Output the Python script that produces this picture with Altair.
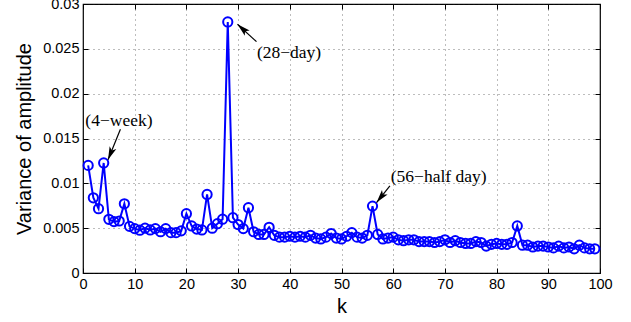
import math
import altair as alt
import pandas as pd

# ---------------- data ----------------
k_values = list(range(1, 100))
variance = [
    0.0120, 0.00839, 0.00717, 0.01227, 0.00599, 0.00573, 0.0058, 0.00772, 0.0052, 0.00495,
    0.00477, 0.0050, 0.0048, 0.00495, 0.0046, 0.00495, 0.0045, 0.0045, 0.0047, 0.00661,
    0.00525, 0.0049, 0.0048, 0.00876, 0.0050, 0.0055, 0.0060, 0.0280, 0.00617, 0.0054,
    0.00495, 0.00728, 0.0046, 0.0043, 0.0043, 0.0051, 0.0042, 0.0040, 0.0040, 0.0041,
    0.0040, 0.0041, 0.0040, 0.0042, 0.0039, 0.0038, 0.0040, 0.0044, 0.0039, 0.0038,
    0.0041, 0.0045, 0.0040, 0.0039, 0.0042, 0.00746, 0.0043, 0.0038, 0.0039, 0.0040,
    0.0037, 0.0036, 0.0037, 0.0037, 0.0035, 0.0035, 0.0035, 0.0034, 0.0035, 0.0037,
    0.0034, 0.0036, 0.0034, 0.0033, 0.0033, 0.0035, 0.0034, 0.0030, 0.0032, 0.0033,
    0.0032, 0.0032, 0.0034, 0.00525, 0.0031, 0.0031, 0.0029, 0.0030, 0.0030, 0.0029,
    0.0028, 0.0030, 0.0028, 0.0029, 0.0027, 0.0031, 0.0028, 0.0027, 0.0027,
]

x_ticks = [0, 10, 20, 30, 40, 50, 60, 70, 80, 90, 100]
y_ticks = [0, 0.005, 0.01, 0.015, 0.02, 0.025, 0.03]

ann_labels = ["(4\u2212week)", "(28\u2212day)", "(56\u2212half day)"]
ann_label_k = [6.95, 39.85, 68.8]
ann_label_v = [0.0170, 0.02454, 0.01069]
ann_tail_k = [7.24, 33.56, 59.36]
ann_tail_v = [0.01604, 0.0258, 0.00972]
ann_tip_k = [4.84, 29.88, 56.78]
ann_tip_v = [0.01262, 0.02774, 0.00786]

# ---------------- layout ----------------
W, H = 517, 269
X_MAX, Y_MAX = 100, 0.03
SANS = "Liberation Sans"
SERIF = "Liberation Serif"

df = pd.DataFrame({"k": k_values, "v": variance})

angles = []
for tk, tv, pk, pv in zip(ann_tail_k, ann_tail_v, ann_tip_k, ann_tip_v):
    dx = (pk - tk) * W / X_MAX
    dy = -(pv - tv) * H / Y_MAX
    angles.append(math.degrees(math.atan2(dx, -dy)) % 360)

ann = pd.DataFrame({
    "label": ann_labels,
    "lk": ann_label_k, "lv": ann_label_v,
    "tk": ann_tail_k, "tv": ann_tail_v,
    "pk": ann_tip_k, "pv": ann_tip_v,
    "ang": angles,
})

xs = alt.Scale(domain=[0, X_MAX], nice=False, zero=False)
ys = alt.Scale(domain=[0, Y_MAX], nice=False, zero=False)

main_x = alt.Axis(
    values=x_ticks, grid=True, gridDash=[1, 4], gridColor="#222222", gridOpacity=0.6,
    ticks=False, domain=False, labelFont=SANS, labelFontSize=14.5, labelColor="black",
    labelPadding=4, labelFlush=False, title="k", titleFont=SANS, titleFontSize=20,
    titleFontWeight="normal", titleColor="black", titlePadding=6,
)
main_y = alt.Axis(
    values=y_ticks, format="~g", grid=True, gridDash=[1, 4], gridColor="#222222",
    gridOpacity=0.6, ticks=False, domain=False, labelFont=SANS, labelFontSize=14.5,
    labelColor="black", labelPadding=4, labelFlush=False, title="Variance of amplitude",
    titleFont=SANS, titleFontSize=20, titleFontWeight="normal", titleColor="black",
    titlePadding=8,
)


def tick_axis(orient, offset, values):
    return alt.Axis(orient=orient, offset=offset, values=values, ticks=True, tickSize=5,
                    tickColor="black", tickWidth=1, labels=False, domain=False,
                    grid=False, title=None)


line = alt.Chart(df).mark_line(color="#0000ff", strokeWidth=2).encode(
    x=alt.X("k:Q", scale=xs, axis=main_x),
    y=alt.Y("v:Q", scale=ys, axis=main_y),
)

points = alt.Chart(df).mark_point(
    shape="circle", size=85, color="#0000ff", strokeWidth=2, filled=False, opacity=1
).encode(
    x=alt.X("k:Q", scale=xs, axis=tick_axis("top", -H, x_ticks)),
    y=alt.Y("v:Q", scale=ys, axis=tick_axis("right", -W, y_ticks)),
)

texts = alt.Chart(ann).mark_text(
    font=SERIF, fontSize=17.5, color="black", align="center", baseline="middle"
).encode(
    x=alt.X("lk:Q", scale=xs, axis=tick_axis("bottom", -H, x_ticks)),
    y=alt.Y("lv:Q", scale=ys, axis=tick_axis("left", -W, y_ticks)),
    text="label:N",
)

shafts = alt.Chart(ann).mark_rule(color="black", strokeWidth=1.2).encode(
    x=alt.X("tk:Q", scale=xs, axis=None),
    y=alt.Y("tv:Q", scale=ys, axis=None),
    x2="pk:Q",
    y2="pv:Q",
)

heads = alt.Chart(ann).mark_point(
    shape="M0,0 L-0.6,2.2 L0,1.7 L0.6,2.2 Z", size=144, filled=True,
    color="black", opacity=1, strokeWidth=0,
).encode(
    x=alt.X("pk:Q", scale=xs, axis=None),
    y=alt.Y("pv:Q", scale=ys, axis=None),
    angle=alt.Angle("ang:Q", scale=None),
)

chart = alt.layer(line, points, texts, shafts, heads).resolve_scale(
    x="shared", y="shared"
).resolve_axis(
    x="independent", y="independent"
).properties(
    width=W, height=H,
    autosize=alt.AutoSizeParams(type="none"),
    padding={"left": 83, "top": 4, "right": 31, "bottom": 49},
    background="white",
).configure_view(
    stroke="black", strokeWidth=1.2
)

chart.save("out.html", embed_options={"renderer": "svg", "actions": False})
